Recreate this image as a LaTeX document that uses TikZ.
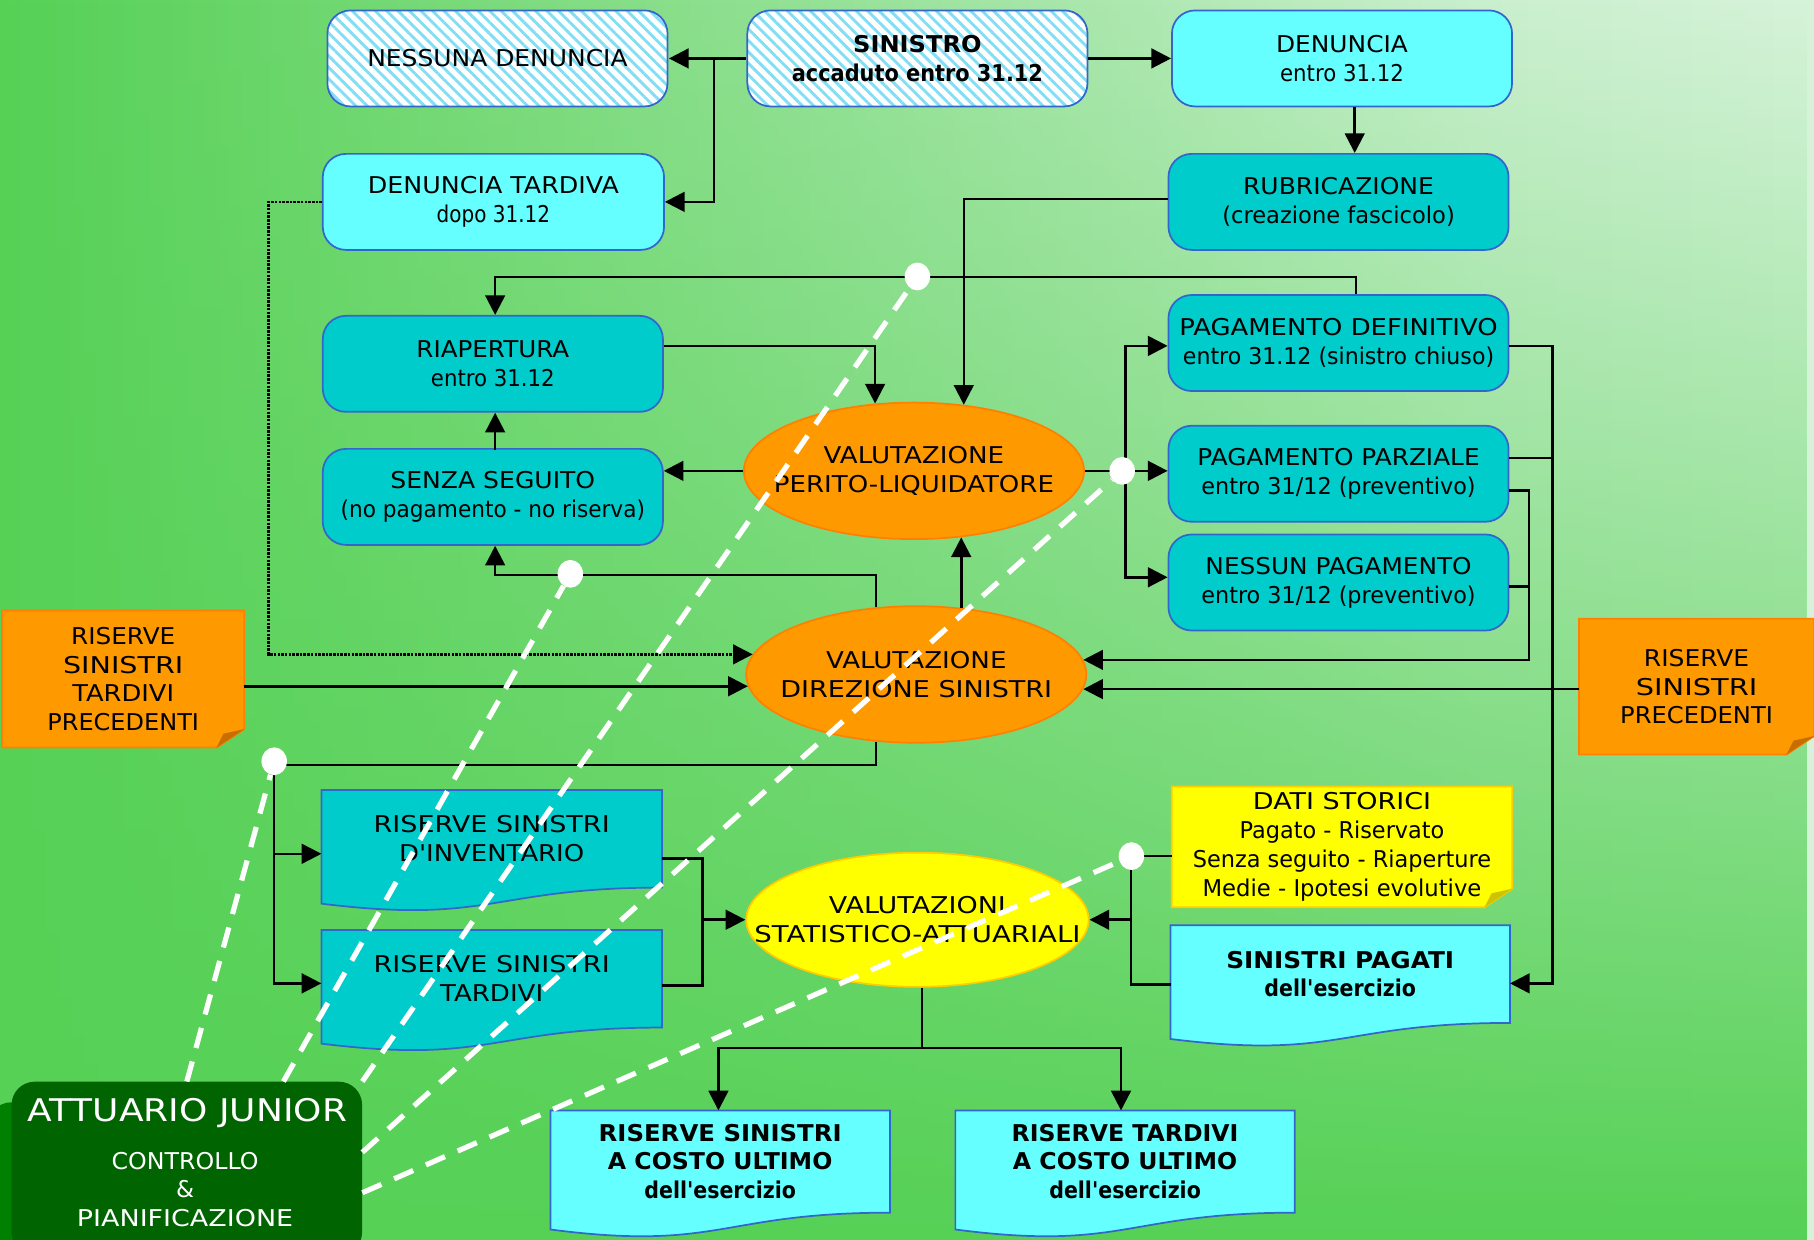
\documentclass[tikz,border=0pt]{standalone}
\usepackage{fontspec}
\setmainfont{DejaVu Sans}
\usepackage{graphicx}
\usetikzlibrary{shapes.geometric,arrows.meta,patterns.meta,fadings,calc}
\definecolor{bgG}{RGB}{86,209,86}
\definecolor{bgM}{RGB}{150,226,152}
\definecolor{bgL}{RGB}{202,239,206}
\definecolor{bgL2}{RGB}{214,243,218}
\definecolor{cyanL}{RGB}{102,255,255}
\definecolor{cyanD}{RGB}{0,204,204}
\definecolor{bordB}{RGB}{51,102,204}
\definecolor{orng}{RGB}{255,153,0}
\definecolor{orngB}{RGB}{255,128,0}
\definecolor{orngD}{RGB}{200,110,0}
\definecolor{ylw}{RGB}{255,255,0}
\definecolor{ylwB}{RGB}{255,204,0}
\definecolor{ylwD}{RGB}{205,195,0}
\definecolor{ajG}{RGB}{0,100,0}
\definecolor{ajS}{RGB}{0,128,0}
\definecolor{hatch}{RGB}{130,222,245}
\pgfdeclarehorizontalshading{bgh}{100bp}{color(0bp)=(bgG); color(25bp)=(bgG); color(48bp)=(bgM); color(66bp)=(bgL); color(75bp)=(bgL2); color(100bp)=(bgL2)}
\tikzfading[name=fadeup, top color=transparent!100, middle color=transparent!70, bottom color=transparent!0]
\pgfdeclarelayer{bglayer}\pgfdeclarelayer{shapes}\pgfdeclarelayer{toplayer}
\pgfsetlayers{bglayer,shapes,main,toplayer}
\newsavebox\fwbox
\newdimen\fwd
\newcommand\fw[2]{\sbox\fwbox{#2}\fwd=\wd\fwbox\pgfmathsetmacro\fwr{#1/\fwd}\makebox[0pt]{\scalebox{\fwr}[1]{\usebox\fwbox}}}
\newcommand\docpath[2]{%
 \begin{pgfonlayer}{shapes}
 \path[draw=bordB, line width=1.5pt, fill=#2] let \p1=(#1.north west), \p2=(#1.south east), \n1={(\y1-\y2)/0.802} in
   (\p1) -- (\x2,\y1) -- (\p2) .. controls ({(\x1+\x2)/2},\y2) and ({(\x1+\x2)/2},{\y1-1.107*\n1}) .. (\x1,{\y1-0.934*\n1}) -- cycle;
 \end{pgfonlayer}}
\newcommand\notepath[4]{%
 \begin{pgfonlayer}{shapes}
 \path[fill=#2, draw=#3, line width=1.5pt] (#1.north west) -- (#1.north east) -- ([yshift=16pt]#1.south east) -- ([xshift=-24pt]#1.south east) -- (#1.south west) -- cycle;
 \fill[#4] ([xshift=-24pt]#1.south east) -- ([xshift=-18pt,yshift=12pt]#1.south east) -- ([yshift=16pt]#1.south east) -- cycle;
 \end{pgfonlayer}}
\tikzset{
 txt/.style={align=center, font=\fontsize{20}{25}\selectfont},
 box/.style={txt, rectangle, rounded corners=20pt, draw=bordB, line width=1.5pt, minimum width=294pt, minimum height=83pt, inner sep=0pt},
 lbox/.style={box, fill=cyanL},
 dbox/.style={box, fill=cyanD},
 hbox/.style={box, preaction={fill=white}, pattern={Lines[angle=-45,distance=7pt,line width=2.5pt]}, pattern color=hatch},
 ell/.style={txt, ellipse, draw=orngB, line width=1.5pt, fill=orng, minimum width=294pt, minimum height=118pt, inner sep=0pt},
 doc/.style={txt, rectangle, inner sep=0pt, minimum width=294pt, minimum height=84pt},
 note/.style={txt, rectangle, inner sep=0pt},
 arr/.style={line width=2.2pt, -{Triangle[length=17pt,width=17pt]}},
 ln/.style={line width=2.2pt},
 jdash/.style={white, line width=4.5pt, dash pattern=on 18pt off 12pt},
 dot/.style={ellipse, fill=white, minimum width=22pt, minimum height=24pt, inner sep=0pt},
 ajbox/.style={rectangle, rounded corners=20pt, fill=ajG, minimum width=303pt, minimum height=150pt, inner sep=0pt},
}
\begin{document}
\begin{tikzpicture}[x=1pt,y=-1pt]
\useasboundingbox (0,0) rectangle (1568,1071);
\begin{pgfonlayer}{bglayer}
\shade[shading=bgh] (0,0) rectangle (1568,1071);
\fill[bgG, path fading=fadeup] (0,0) rectangle (1568,1071);
\end{pgfonlayer}

% nodes
\node[hbox] (nd) at (430,50.5) {\fw{225}{NESSUNA DENUNCIA}};
\node[hbox] (sin) at (793,50.5) {\fw{111}{\bfseries SINISTRO}\\\fw{217}{\bfseries accaduto entro 31.12}};
\node[lbox] (den) at (1160,50.5) {\fw{114}{DENUNCIA}\\\fw{107}{entro 31.12}};
\node[lbox, minimum width=295pt] (dt) at (426.5,174.5) {\fw{217}{DENUNCIA TARDIVA}\\\fw{98}{dopo 31.12}};
\node[dbox] (rub) at (1157,174.5) {\fw{165}{RUBRICAZIONE}\\\fw{201}{(creazione fascicolo)}};
\node[dbox] (ria) at (426,314.5) {\fw{132}{RIAPERTURA}\\\fw{107}{entro 31.12}};
\node[dbox] (ss) at (426,429.5) {\fw{177}{SENZA SEGUITO}\\\fw{263}{(no pagamento - no riserva)}};
\node[ell] (vpl) at (790,407) {\fw{156}{VALUTAZIONE}\\\fw{242}{PERITO-LIQUIDATORE}};
\node[dbox] (pd) at (1157,296.5) {\fw{275}{PAGAMENTO DEFINITIVO}\\\fw{269}{entro 31.12 (sinistro chiuso)}};
\node[dbox] (pp) at (1157,409.5) {\fw{244}{PAGAMENTO PARZIALE}\\\fw{237}{entro 31/12 (preventivo)}};
\node[dbox] (np) at (1157,503.5) {\fw{230}{NESSUN PAGAMENTO}\\\fw{237}{entro 31/12 (preventivo)}};
\node[ell] (vds) at (792,583) {\fw{156}{VALUTAZIONE}\\\fw{235}{DIREZIONE SINISTRI}};
\node[note, minimum width=209pt, minimum height=118pt] (rstp) at (106.5,587) {\fw{90}{RISERVE}\\\fw{104}{SINISTRI}\\\fw{88}{TARDIVI}\\\fw{131}{PRECEDENTI}};
\notepath{rstp}{orng}{orngB}{orngD}
\node[note, minimum width=203pt, minimum height=117pt] (rsp) at (1466.5,593.5) {\fw{91}{RISERVE}\\\fw{105}{SINISTRI}\\\fw{132}{PRECEDENTI}};
\notepath{rsp}{orng}{orngB}{orngD}
\node[doc] (rsi) at (425,725) {\fw{204}{RISERVE SINISTRI}\\\fw{160}{D\textquotesingle INVENTARIO}};
\docpath{rsi}{cyanD}
\node[doc] (rst) at (425,846) {\fw{204}{RISERVE SINISTRI}\\\fw{89}{TARDIVI}};
\docpath{rst}{cyanD}
\node[ell, fill=ylw, draw=ylwB, minimum width=296pt, minimum height=116pt] (vsa) at (793,795) {\fw{153}{VALUTAZIONI}\\\fw{282}{STATISTICO-ATTUARIALI}};
\node[note, minimum width=294pt, minimum height=104pt] (ds) at (1160,732) {\fw{154}{DATI STORICI}\\\fw{177}{Pagato - Riservato}\\\fw{258}{Senza seguito - Riaperture}\\\fw{241}{Medie - Ipotesi evolutive}};
\notepath{ds}{ylw}{ylwB}{ylwD}
\node[doc, minimum width=293pt] (sp) at (1158.5,842) {\fw{197}{\bfseries SINISTRI PAGATI}\\\fw{131}{\bfseries dell\textquotesingle esercizio}};
\docpath{sp}{cyanL}
\node[doc, minimum width=293pt, minimum height=88pt] (rsc) at (622.5,1004) {\fw{210}{\bfseries RISERVE SINISTRI}\\\fw{194}{\bfseries A COSTO ULTIMO}\\\fw{131}{\bfseries dell\textquotesingle esercizio}};
\docpath{rsc}{cyanL}
\node[doc, minimum width=293pt, minimum height=88pt] (rtc) at (972.5,1004) {\fw{196}{\bfseries RISERVE TARDIVI}\\\fw{194}{\bfseries A COSTO ULTIMO}\\\fw{131}{\bfseries dell\textquotesingle esercizio}};
\docpath{rtc}{cyanL}
\node[ajbox] (aj) at (161.5,1010) {};
\begin{pgfonlayer}{shapes}
\fill[ajS, rounded corners=20pt] ([xshift=-20pt,yshift=-18pt]aj.north west) rectangle ([xshift=-20pt,yshift=-18pt]aj.south east);
\end{pgfonlayer}
\node[txt, text=white, font=\fontsize{27}{30}\selectfont] (ajt1) at (162,962) {\fw{276}{ATTUARIO JUNIOR}};
\node[txt, text=white, font=\fontsize{20}{24.5}\selectfont] (ajt2) at (160,1028) {\fw{127}{CONTROLLO}\\\makebox[0pt]{\&}\\\fw{187}{PIANIFICAZIONE}};

% dots
\begin{pgfonlayer}{toplayer}
\node[dot] (d1) at (793,239) {};
\node[dot] (d2) at (493,496) {};
\node[dot] (d4) at (970,407) {};
\node[dot] (d5) at (237,658) {};
\node[dot] (d6) at (978,740) {};
\end{pgfonlayer}

% connectors
\draw[arr] (sin.west) -- (nd.east);
\draw[arr] ($(sin.west)+(-28,0)$) |- (dt.east);
\draw[arr] (sin.east) -- (den.west);
\draw[arr] ($(den.south)+(11,0)$) -- ($(rub.north)+(14,0)$);
\draw[arr] ($(rub.west)+(0,-2.5)$) -| (vpl.53);
\draw[arr] ($(pd.north)+(15,0)$) -- ++(0,-15) -| ($(ria.north)+(2,0)$);
\draw[arr] ($(ria.east)+(0,-15.5)$) -| (vpl.120);
\draw[arr] ($(ss.south)+(2,0)$) ++(0,-83) -- ($(ria.south)+(2,0)$);
\draw[arr] (vpl.west) -- (vpl.west -| ss.east);
\draw[arr] (vpl.east) -- (vpl.east -| pp.west);
\coordinate (bus) at ($(vpl.east)+(35,0)$);
\draw[arr] (bus) |- ($(pd.west)+(0,2.5)$);
\draw[arr] (bus) |- ($(np.west)+(0,-4.5)$);
\draw[arr] (vds.121) -- ++(0,-28) -| ($(ss.south)+(2,0)$);
\draw[arr] (vds.56) -- (vds.56 |- vpl.-55);
\draw[arr, densely dotted] (dt.west) -- ++(-46,0) |- (vds.173);
\draw[arr] (rstp.east |- vds.184) -- (vds.184);
\draw[arr] (rsp.west |- vds.-5) -- (vds.-5);
\draw[arr] ($(pp.east)+(0,14.5)$) -- ++(17,0) |- (vds.5);
\draw[ln] ($(np.east)+(0,3.5)$) -- ++(17,0);
\draw[arr] ($(pd.east)+(0,2.5)$) -- ++(37,0) |- ($(sp.east)+(0,8)$);
\draw[ln] ($(pp.east)+(0,-13.5)$) -- ++(37,0);
\draw[ln] (vds.-121) -- ++(0,20) -| (d5.center);
\draw[arr] (d5.center) |- ($(rsi.west)+(0,13)$);
\draw[arr] (d5.center) |- ($(rst.west)+(0,4)$);
\coordinate (jl) at ($(rsi.east)+(35,17)$);
\draw[ln] ($(rsi.east)+(0,17)$) -- (jl) |- ($(rst.east)+(0,6)$);
\draw[arr] (jl |- vsa.west) -- (vsa.west);
\coordinate (jr) at ($(ds.west)+(-35,8)$);
\draw[ln] ($(ds.west)+(0,8)$) -- (jr) |- ($(sp.west)+(0,9)$);
\draw[arr] (jr |- vsa.east) -- (vsa.east);
\draw[arr] ($(vsa.south)+(4,0)$) -- ++(0,52) -| ($(rsc.north)+(-1.5,0)$);
\draw[arr] ($(vsa.south)+(4,0)$) ++(0,52) -| ($(rtc.north)+(-3.5,0)$);

% dashed links
\begin{pgfonlayer}{toplayer}
\draw[jdash] (aj.north) -- (d5);
\draw[jdash] ($(aj.north)+(83.5,0)$) -- (d2);
\draw[jdash] (aj.north east) -- (d1);
\draw[jdash] ($(aj.east)+(0,-14)$) -- (d4);
\draw[jdash] ($(aj.east)+(0,21)$) -- (d6);
\end{pgfonlayer}
\end{tikzpicture}
\end{document}
